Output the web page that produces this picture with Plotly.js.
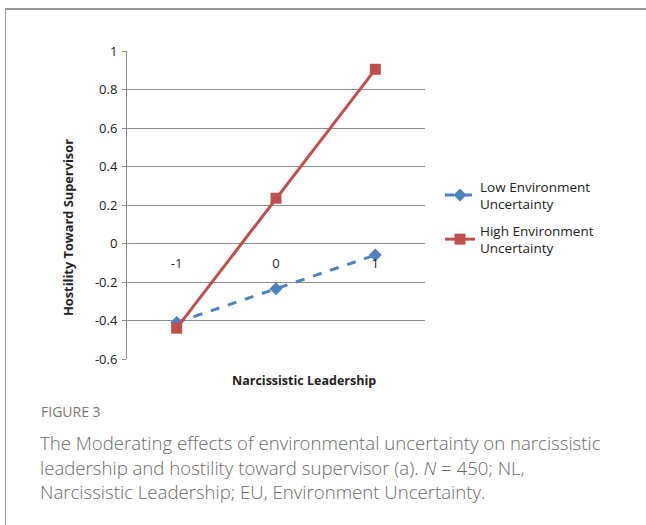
<!DOCTYPE html>
<html>
<head>
<meta charset="utf-8">
<script src="https://cdn.plot.ly/plotly-3.0.1.min.js"></script>
<style>
html,body{margin:0;padding:0;background:#fff;}
#chart{width:646px;height:525px;}
</style>
</head>
<body>
<div id="chart"></div>
<script>
// Data
const categories = [-1, 0, 1];
const xTickLabels = ["-1", "0", "1"];
const lowValues = [-0.41, -0.235, -0.06];
const highValues = [-0.44, 0.235, 0.905];
const seriesNames = ["Low Environment<br>Uncertainty", "High Environment<br>Uncertainty"];
const yTickVals = [1, 0.8, 0.6, 0.4, 0.2, 0, -0.2, -0.4, -0.6];
const yTickLabels = ["1", "0.8", "0.6", "0.4", "0.2", "0", "-0.2", "-0.4", "-0.6"];
const xTitle = "Narcissistic Leadership";
const yTitle = "Hostility Toward Supervisor";
const figLabel = "FIGURE 3";
const captionLines = [
  "The Moderating effects of environmental uncertainty on narcissistic",
  "leadership and hostility toward supervisor (a). <i>N</i> = 450; NL,",
  "Narcissistic Leadership; EU, Environment Uncertainty."
];

// Layout geometry (pixels)
const W = 646, H = 525;
const L = 127, R = 221, T = 51, B = 166;
const pw = W - L - R, ph = H - T - B;
const fx = px => (px - L) / pw;
const fy = py => (H - B - py) / ph;

const traces = [
  {
    x: categories, y: lowValues, name: seriesNames[0], type: 'scatter', mode: 'lines+markers',
    legendgroup: 'low',
    line: {color: '#4F81BD', width: 3, dash: 'dash'},
    marker: {symbol: 'diamond', size: 10, color: '#4F81BD'}
  },
  {
    x: categories, y: highValues, name: seriesNames[1], type: 'scatter', mode: 'lines+markers',
    legendgroup: 'high',
    line: {color: '#C0504D', width: 3},
    marker: {symbol: 'square', size: 11, color: '#C0504D'}
  }
];

const annotations = [
  {xref:'paper', yref:'paper', x: fx(303.5), y: fy(380), text: '<b>' + xTitle + '</b>', showarrow:false,
   font:{family:'Open Sans, sans-serif', size:12.5, color:'#222'}, xanchor:'center', yanchor:'middle'},
  {xref:'paper', yref:'paper', x: fx(68), y: fy(228), text: '<b>' + yTitle + '</b>', showarrow:false, textangle:-90,
   font:{family:'Open Sans, sans-serif', size:12.8, color:'#222'}, xanchor:'center', yanchor:'middle'},
  {xref:'paper', yref:'paper', x: fx(39), y: fy(411), text: figLabel, showarrow:false,
   font:{family:'Open Sans, sans-serif', size:14, color:'#777'}, xanchor:'left', yanchor:'middle'}
];
const capY = [442, 467, 491];
captionLines.forEach((t, i) => {
  annotations.push({xref:'paper', yref:'paper', x: fx(38), y: fy(capY[i]), text: t, showarrow:false,
    font:{family:'Open Sans, sans-serif', size:18.6, color:'#6a6a6a', weight:300}, xanchor:'left', yanchor:'middle'});
});

const layout = {
  width: W, height: H,
  margin: {l: L, r: R, t: T, b: B, pad: 0},
  paper_bgcolor: '#fff', plot_bgcolor: '#fff',
  showlegend: true,
  legend: {x: fx(440), y: fy(171), xanchor:'left', yanchor:'top',
    font:{family:'Open Sans, sans-serif', size:13.5, color:'#222'}, tracegroupgap: 6, itemwidth: 30,
    bgcolor:'rgba(0,0,0,0)'},
  xaxis: {
    range: [-1.5, 1.5], tickvals: categories, ticktext: xTickLabels,
    showgrid: false, zeroline: false, showline: false, ticks: '',
    anchor: 'free', position: 0.375, ticklabelstandoff: 10,
    tickfont: {family:'Open Sans, sans-serif', size:13, color:'#222'}, fixedrange: true
  },
  yaxis: {
    range: [-0.6, 1], tickvals: yTickVals, ticktext: yTickLabels,
    showgrid: true, gridcolor: '#8c8c8c', gridwidth: 1,
    zeroline: false, showline: true, linecolor: '#8c8c8c', linewidth: 1,
    ticks: 'outside', ticklen: 4, tickcolor: '#8c8c8c', ticklabelstandoff: 2,
    tickfont: {family:'Open Sans, sans-serif', size:13, color:'#222'}, fixedrange: true
  },
  shapes: [
    {type:'line', xref:'paper', yref:'paper', x0: fx(5), x1: fx(646), y0: fy(9), y1: fy(9), line:{color:'#999', width:2}},
    {type:'line', xref:'paper', yref:'paper', x0: fx(5.5), x1: fx(5.5), y0: fy(9), y1: fy(525), line:{color:'#999', width:1}}
  ],
  annotations: annotations
};

Plotly.newPlot('chart', traces, layout, {displayModeBar: false, staticPlot: true});
</script>
</body>
</html>
